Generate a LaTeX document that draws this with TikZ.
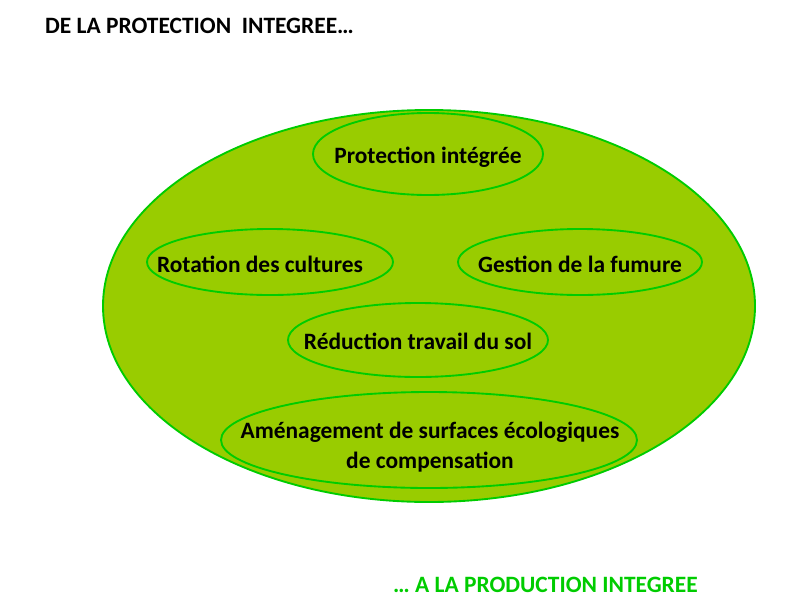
\documentclass[tikz,border=0pt]{standalone}
\usepackage{fontspec}
\setmainfont{Carlito}
\usepackage{tikz}
\definecolor{leaf}{HTML}{99CC00}
\definecolor{rim}{HTML}{00CC00}

\begin{document}
\begin{tikzpicture}[x=0.03cm, y=-0.03cm,
  every node/.style={font=\bfseries\fontsize{20}{26}\selectfont, inner sep=0pt},
  rimline/.style={draw=rim, line width=1.6pt}]
  \useasboundingbox (0,0) rectangle (788,614);
  % big field
  \draw[rimline, fill=leaf] (429,306) ellipse [x radius=326, y radius=196];
  % titles
  \node[anchor=west] (top) at (45,26) {DE LA PROTECTION\ \ INTEGREE…};
  \node[anchor=west, text=rim] (bottom) at (393,585) {… A LA PRODUCTION INTEGREE};
  % measures
  \node (protec) at (428,157) {Protection intégrée};
  \node (rotat) at (260,264) {Rotation des cultures};
  \node (fumure) at (580,264) {Gestion de la fumure};
  \node (sol) at (418,341) {Réduction travail du sol};
  \node[align=center] (surf) at (430,447) {Aménagement de surfaces écologiques\\de compensation};
  % rings round the measures
  \draw[rimline] (428,154) ellipse [x radius=115, y radius=41];
  \draw[rimline] (270,262) ellipse [x radius=123, y radius=33];
  \draw[rimline] (580,262) ellipse [x radius=122, y radius=33];
  \draw[rimline] (418,340) ellipse [x radius=130, y radius=37];
  \draw[rimline] (429,440) ellipse [x radius=208, y radius=48];
\end{tikzpicture}
\end{document}
